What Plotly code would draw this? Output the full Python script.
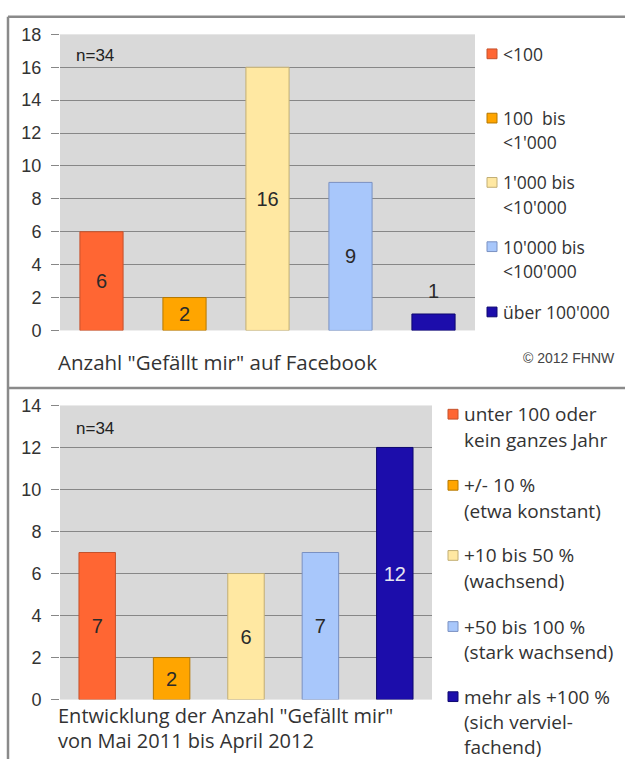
import plotly.graph_objects as go

# ---------------- data ----------------
top_categories = ["<100", "100  bis<br><1'000", "1'000 bis<br><10'000",
                  "10'000 bis<br><100'000", "über 100'000"]
top_values = [6, 2, 16, 9, 1]
top_yticks = [0, 2, 4, 6, 8, 10, 12, 14, 16, 18]

bottom_categories = ["unter 100 oder<br>kein ganzes Jahr", "+/- 10 %<br>(etwa konstant)",
                     "+10 bis 50 %<br>(wachsend)", "+50 bis 100 %<br>(stark wachsend)",
                     "mehr als +100 %<br>(sich verviel-<br>fachend)"]
bottom_values = [7, 2, 6, 7, 12]
bottom_yticks = [0, 2, 4, 6, 8, 10, 12, 14]

top_title = 'Anzahl "Gefällt mir" auf Facebook'
bottom_title = 'Entwicklung der Anzahl "Gefällt mir"<br>von Mai 2011 bis April 2012'
sample_note = "n=34"
copyright_note = "© 2012 FHNW"

# ---------------- styles ----------------
W, H = 625, 769
fills = ["#FF6633", "#FFA500", "#FFE8A2", "#A8C7FB", "#1C0DAB"]
outlines = ["#C4522C", "#B57800", "#C2AE74", "#7A91C2", "#0E0870"]
top_label_colors = ["#2a2a2a", "#2a2a2a", "#2a2a2a", "#2a2a2a", "#2a2a2a"]
top_label_pos = ["inside", "inside", "inside", "inside", "none"]
bottom_label_colors = ["#2a2a2a", "#2a2a2a", "#2a2a2a", "#2a2a2a", "#E6E6F0"]
grid = "#878787"
border = "#8A8A8A"
txt = "#333333"
num_font = "Liberation Sans, Arial, sans-serif"
hum_font = "Open Sans, Lato, sans-serif"


def fx(px):
    return px / W


def fy(py):
    return 1 - py / H


fig = go.Figure()

top_x = list(range(len(top_values)))
fig.add_trace(go.Bar(
    x=top_x, y=top_values, width=0.52,
    marker=dict(color=fills, line=dict(color=outlines, width=1)),
    text=[str(v) for v in top_values],
    textposition=top_label_pos,
    insidetextanchor="middle",
    textfont=dict(family=num_font, size=20, color=top_label_colors),
    cliponaxis=False, showlegend=False, xaxis="x", yaxis="y"))

fig.add_trace(go.Bar(
    x=list(range(len(bottom_values))), y=bottom_values, width=0.49,
    marker=dict(color=fills, line=dict(color=outlines, width=1)),
    text=[str(v) for v in bottom_values],
    textposition="inside", insidetextanchor="middle",
    textfont=dict(family=num_font, size=20, color=bottom_label_colors),
    cliponaxis=False, showlegend=False, xaxis="x2", yaxis="y2"))

yax = dict(ticks="outside", ticklen=8, tickcolor=grid, tickwidth=1,
           showgrid=True, gridcolor=grid, gridwidth=1, zeroline=False,
           showline=False, tickfont=dict(family=num_font, size=18, color=txt),
           ticklabelstandoff=6, fixedrange=True)
xax = dict(range=[-0.5, 4.5], showticklabels=False, showgrid=False,
           zeroline=False, showline=False, ticks="", fixedrange=True)

fig.update_layout(
    width=W, height=H, margin=dict(l=0, r=0, t=0, b=0),
    paper_bgcolor="white", plot_bgcolor="#D9D9D9",
    bargap=0.5, uniformtext=dict(minsize=20, mode="show"),
    xaxis=dict(domain=[fx(60), fx(475)], anchor="y", **xax),
    yaxis=dict(domain=[fy(329), fy(25)], range=[0, 18], tickvals=top_yticks,
               anchor="x", **yax),
    xaxis2=dict(domain=[fx(60), fx(432)], anchor="y2", **xax),
    yaxis2=dict(domain=[fy(708), fy(406)], range=[0, 14], tickvals=bottom_yticks,
                anchor="x2", **yax),
)

shapes = []
annotations = []

# frame lines
for (x0, y0, x1, y1) in [(8, 7, 625, 7), (8, 7, 8, 769), (8, 388, 625, 388)]:
    shapes.append(dict(type="line", xref="paper", yref="paper",
                       x0=fx(x0), y0=fy(y0), x1=fx(x1), y1=fy(y1),
                       line=dict(color=border, width=2.5)))

# outside label of the smallest top bar, placed from the data value
for i, pos in enumerate(top_label_pos):
    if pos == "none":
        annotations.append(dict(xref="x", yref="y", x=top_x[i], y=top_values[i],
                                text=str(top_values[i]), showarrow=False,
                                yanchor="bottom", yshift=10,
                                font=dict(family=num_font, size=20, color=top_label_colors[i])))


# custom legends
def add_legend(labels, sq_x, txt_x, first_y, line_h, size):
    for i, lab in enumerate(labels):
        y0 = first_y[i]
        shapes.append(dict(type="rect", xref="paper", yref="paper",
                           x0=fx(sq_x), x1=fx(sq_x + 10),
                           y0=fy(y0 + 5), y1=fy(y0 - 5),
                           fillcolor=fills[i], line=dict(color=outlines[i], width=1)))
        for j, line in enumerate(lab.split("<br>")):
            annotations.append(dict(xref="paper", yref="paper", x=fx(txt_x),
                                    y=fy(y0 + j * line_h), text=line, showarrow=False,
                                    xanchor="left", yanchor="middle",
                                    font=dict(family=hum_font, size=size, color=txt)))


add_legend(top_categories, 487, 501, [45, 111, 177, 243, 310], 25, 17.5)
add_legend(bottom_categories, 448, 462, [415, 488, 560, 633, 705], 26, 19)

# notes and titles
annotations += [
    dict(xref="paper", yref="paper", x=fx(74), y=fy(47), text=sample_note,
         showarrow=False, xanchor="left", yanchor="middle",
         font=dict(family=num_font, size=17, color="#222")),
    dict(xref="paper", yref="paper", x=fx(74), y=fy(430), text=sample_note,
         showarrow=False, xanchor="left", yanchor="middle",
         font=dict(family=num_font, size=17, color="#222")),
    dict(xref="paper", yref="paper", x=fx(56), y=fy(361), text=top_title,
         showarrow=False, xanchor="left", yanchor="middle",
         font=dict(family=hum_font, size=20.5, color=txt)),
    dict(xref="paper", yref="paper", x=fx(617), y=fy(357), text=copyright_note,
         showarrow=False, xanchor="right", yanchor="middle",
         font=dict(family=num_font, size=14, color="#444")),
]
for j, line in enumerate(bottom_title.split("<br>")):
    annotations.append(dict(xref="paper", yref="paper", x=fx(56), y=fy(724 + j * 26),
                            text=line, showarrow=False, xanchor="left", yanchor="middle",
                            font=dict(family=hum_font, size=20, color=txt)))

fig.update_layout(shapes=shapes, annotations=annotations)

fig.write_html("out.html", config={"displayModeBar": False},
               post_script="document.body.style.margin='0';document.body.style.overflow='hidden';")
